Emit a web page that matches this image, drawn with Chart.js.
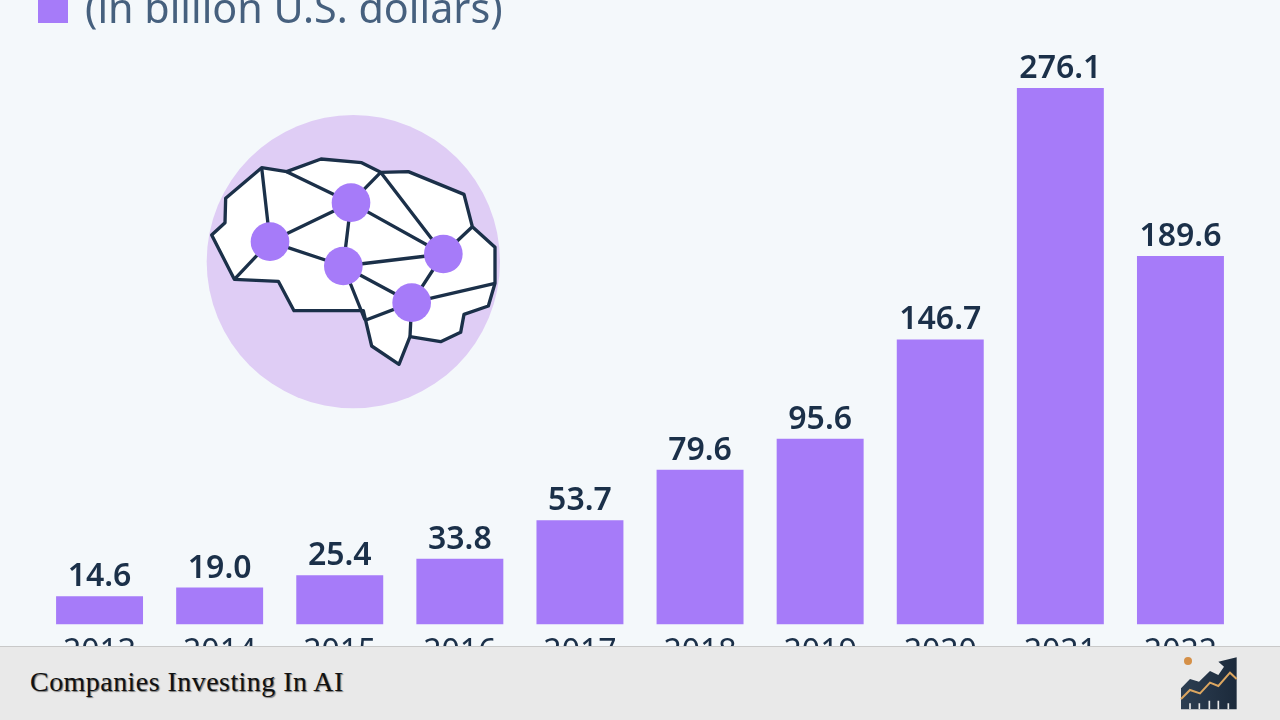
<!DOCTYPE html>
<html lang="en">
<head>
    <meta charset="UTF-8">
    <title>Companies Investing In AI</title>
    <script src="https://cdn.jsdelivr.net/npm/chart.js@4"></script>
    <style>
        html, body {
            margin: 0;
            width: 1280px;
            height: 720px;
            overflow: hidden;
            background: #f4f8fb;
        }
        #chartBox {
            position: absolute;
            left: 0;
            top: 0;
            width: 1280px;
            height: 720px;
        }
        .legendBox {
            position: absolute;
            left: 38px;
            top: -7px;
            width: 30px;
            height: 30px;
            background: #a67bf9;
        }
        .subtitle {
            position: absolute;
            left: 85px;
            top: -18px;
            font: 41.3px "Noto Sans", sans-serif;
            line-height: 50px;
            color: #46607e;
            white-space: nowrap;
        }
        .brain {
            position: absolute;
            left: 190px;
            top: 100px;
            width: 330px;
            height: 320px;
        }
        .footer {
            position: absolute;
            left: 0;
            top: 646px;
            width: 1280px;
            height: 74px;
            background: #e9e9e9;
            border-top: 1px solid #c9c9c9;
            box-sizing: border-box;
        }
        .footer span {
            position: absolute;
            left: 30px;
            top: 18px;
            font: 28px "Liberation Serif", serif;
            letter-spacing: 0.45px;
            line-height: 34px;
            color: #111;
            text-shadow: 1px 1px 1px #777;
            white-space: nowrap;
        }
        .logo {
            position: absolute;
            left: 1120px;
            top: 610px;
            width: 160px;
            height: 110px;
        }
    </style>
</head>
<body>
    <div id="chartBox"><canvas id="miCanvas" width="1280" height="720"></canvas></div>

    <div class="legendBox"></div>
    <div class="subtitle">(in billion U.S. dollars)</div>

    <svg class="brain" viewBox="0 0 990 960">
        <circle cx="490" cy="485" r="440" fill="#dfcdf5"/>
        <g stroke="#1b3049" stroke-width="10" stroke-linejoin="round" fill="none">
            <polygon fill="#fff" points="65,405 105,368 107,295 215,203 290,215 393,177 515,188 572,217 655,215 822,283 847,380 915,442 915,550 895,618 822,643 812,697 752,725 660,710 627,793 545,738 520,632 312,632 265,544 133,538"/>
            <path d="M215 203L240 425M290 215L483 308M572 217L483 308M572 217L760 462M483 308L240 425M483 308L460 498M483 308L760 462M240 425L133 538M240 425L460 498M460 498L760 462M460 498L665 608M460 498L525 660M847 380L760 462M760 462L665 608M665 608L915 550M665 608L528 660M665 608L660 710"/>
        </g>
        <g fill="#a67bf9">
            <circle cx="483" cy="308" r="58"/>
            <circle cx="240" cy="425" r="58"/>
            <circle cx="460" cy="498" r="58"/>
            <circle cx="760" cy="462" r="58"/>
            <circle cx="665" cy="608" r="58"/>
        </g>
    </svg>

    <div class="footer"><span>Companies Investing In AI</span></div>

    <svg class="logo" viewBox="0 0 480 330">
        <defs>
            <linearGradient id="logoFill" x1="0" x2="1" y1="0" y2="0">
                <stop offset="0" stop-color="#2c3e52"/>
                <stop offset="1" stop-color="#1c2a3b"/>
            </linearGradient>
        </defs>
        <polygon fill="url(#logoFill)" points="183,298 183,235 210,207 237,215 270,183 295,195 312,170 295,155 350,142 350,298"/>
        <polyline fill="none" stroke="#dca660" stroke-width="6" points="183,267 210,240 240,250 270,218 295,228 330,188 350,207"/>
        <path stroke="#e9e9e9" stroke-width="5" d="M210 280V298M238 280V298M268 272V298M295 272V298M325 280V298"/>
        <circle cx="204" cy="153" r="12" fill="#d59048"/>
    </svg>

    <script>
        const years = ['2013', '2014', '2015', '2016', '2017', '2018', '2019', '2020', '2021', '2022'];
        const investment = [14.6, 19.0, 25.4, 33.8, 53.7, 79.6, 95.6, 146.7, 276.1, 189.6];

        // prints the value above each bar
        const barLabels = {
            id: 'barLabels',
            afterDatasetsDraw(chart) {
                const ctx = chart.ctx;
                const bars = chart.getDatasetMeta(0).data;
                ctx.save();
                ctx.font = '600 32px "Noto Sans", sans-serif';
                ctx.fillStyle = '#1b3049';
                ctx.textAlign = 'center';
                ctx.textBaseline = 'alphabetic';
                bars.forEach((bar, i) => {
                    ctx.fillText(investment[i].toFixed(1), bar.x, bar.y - 10);
                });
                ctx.restore();
            }
        };

        new Chart(document.getElementById('miCanvas').getContext('2d'), {
            type: 'bar',
            data: {
                labels: years,
                datasets: [{
                    data: investment,
                    backgroundColor: '#a67bf9',
                    barPercentage: 0.724,
                    categoryPercentage: 1
                }]
            },
            options: {
                responsive: false,
                animation: false,
                devicePixelRatio: 1,
                layout: { padding: { left: 39.5, right: 39.5, top: 41.6, bottom: 0 } },
                plugins: { legend: { display: false }, tooltip: { enabled: false } },
                scales: {
                    x: {
                        afterFit(scale) { scale.height = 95.5; },
                        grid: { display: false, drawTicks: false },
                        border: { display: false },
                        ticks: {
                            padding: 9,
                            color: '#1b3049',
                            maxRotation: 0,
                            font: { family: '"Noto Sans", sans-serif', size: 32 }
                        }
                    },
                    y: { display: false, min: 0, max: 300 }
                }
            },
            plugins: [barLabels]
        });
    </script>
</body>
</html>
